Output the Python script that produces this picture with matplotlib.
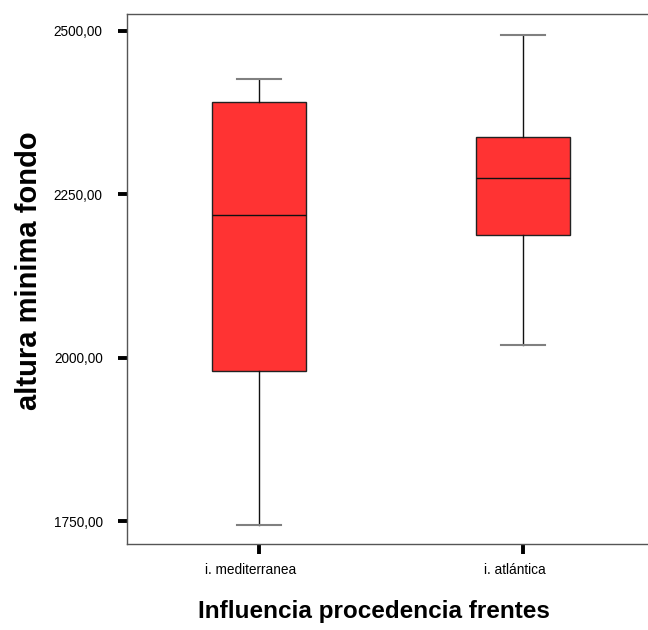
import matplotlib
matplotlib.use('Agg')
import matplotlib.pyplot as plt
import matplotlib.transforms as mtransforms

plt.rcParams['font.family'] = ['Liberation Sans', 'DejaVu Sans']

# valores
grupos = ['i. mediterranea', 'i. atlántica']
bigotes_inf = [1744.0, 2019.0]
q1 = [1979.4, 2187.8]
medianas = [2218.3, 2274.9]
q3 = [2390.4, 2336.9]
bigotes_sup = [2426.6, 2494.3]
ticks_y = [1750, 2000, 2250, 2500]

stats = []
for i in range(len(grupos)):
    stats.append({'label': grupos[i], 'whislo': bigotes_inf[i], 'q1': q1[i],
                  'med': medianas[i], 'q3': q3[i], 'whishi': bigotes_sup[i],
                  'fliers': []})

fig = plt.figure(figsize=(6.48, 6.30), dpi=100)
ax = fig.add_axes([0.196, 0.1365, 0.815, 0.8405])

ax.bxp(stats, positions=[1, 2], widths=0.356, capwidths=0.165, patch_artist=True,
       boxprops=dict(facecolor='#ff3333', edgecolor='#222222', linewidth=1.0),
       medianprops=dict(color='#111111', linewidth=1.0),
       whiskerprops=dict(color='#111111', linewidth=1.0),
       capprops=dict(color='#808080', linewidth=1.5))

ax.set_xlim(0.5, 2.5)
ax.set_ylim(1715.6, 2524.9)
ax.set_yticks(ticks_y)
ax.set_yticklabels(['{:.2f}'.format(t).replace('.', ',') for t in ticks_y])
ax.set_xticks([1, 2])
ax.set_xticklabels(grupos)

for s in ax.spines.values():
    s.set_color('#555555')
    s.set_linewidth(1.0)

ax.tick_params(axis='y', length=6.5, width=2.8, color='black', pad=11, labelsize=9.8)
ax.tick_params(axis='x', length=7, width=2.8, color='black', pad=7, labelsize=9.8)

# las etiquetas del eje x estan algo corridas a la izquierda en el original
desplaza = mtransforms.ScaledTranslation(-8 / 100, 0, fig.dpi_scale_trans)
for lab in ax.get_xticklabels():
    lab.set_transform(lab.get_transform() + desplaza)

fig.text(0.577, 0.029, 'Influencia procedencia frentes', ha='center', va='center',
         fontsize=17.5, fontweight='bold')
fig.text(0.044, 0.571, 'altura minima fondo', ha='center', va='center',
         rotation=90, fontsize=21, fontweight='bold')

fig.savefig('out.png', dpi=100)
